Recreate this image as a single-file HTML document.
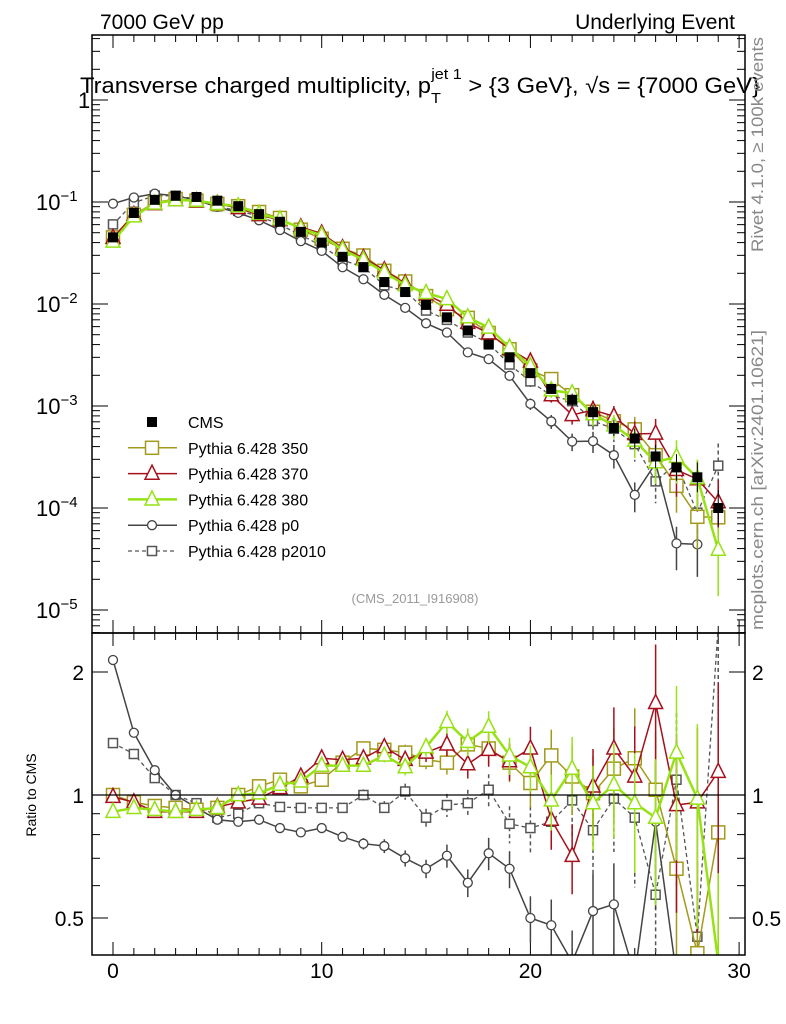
<!DOCTYPE html>
<html><head><meta charset="utf-8"><style>
html,body{margin:0;padding:0;background:#fff;overflow:hidden;width:786px;height:1024px}
svg{display:block;font-family:"Liberation Sans",sans-serif;overflow:hidden}
</style></head><body>
<svg id="plot" width="786" height="1024" viewBox="0 0 786 1024" xmlns="http://www.w3.org/2000/svg">
<g id="ticks"></g>
<g id="series"></g>
<rect x="92" y="35" width="653" height="598" fill="none" stroke="#000" stroke-width="1.5"/>
<rect x="92" y="633" width="653" height="322" fill="none" stroke="#000" stroke-width="1.5"/>
<line x1="92" x2="745" y1="795" y2="795" stroke="#000" stroke-width="1.3"/>
<text x="100" y="29" font-size="21">7000 GeV pp</text>
<text x="735" y="29" font-size="21" text-anchor="end">Underlying Event</text>
<text x="80" y="93" font-size="22" textLength="680" lengthAdjust="spacingAndGlyphs">Transverse charged multiplicity, p<tspan font-size="15" dy="10">T</tspan><tspan font-size="15" dx="-9" dy="-24">jet 1</tspan><tspan dy="14"> &gt; {3 GeV}, √s = {7000 GeV}</tspan></text>
<text transform="translate(763,252) rotate(-90)" font-size="17" fill="#888" textLength="215" lengthAdjust="spacingAndGlyphs">Rivet 4.1.0, ≥ 100k events</text>
<text transform="translate(763,630) rotate(-90)" font-size="17" fill="#888" textLength="300" lengthAdjust="spacingAndGlyphs">mcplots.cern.ch [arXiv:2401.10621]</text>
<text x="415" y="603" font-size="13" fill="#999" text-anchor="middle">(CMS_2011_I916908)</text>
<text transform="translate(36,795) rotate(-90)" font-size="14" text-anchor="middle">Ratio to CMS</text>
<g id="legend"></g>
</svg>
<script>
const xs = [0,1,2,3,4,5,6,7,8,9,10,11,12,13,14,15,16,17,18,19,20,21,22,23,24,25,26,27,28,29];
const cms = [0.045,0.078,0.105,0.115,0.112,0.103,0.091,0.076,0.064,0.051,0.040,0.029,0.023,0.0164,0.0131,0.0098,0.0074,0.0055,0.0040,0.0030,0.0021,0.00147,0.00115,0.00087,0.00061,0.00048,0.00032,0.00025,0.0002,0.0001];
const relErr = [0.01,0.01,0.01,0.01,0.01,0.01,0.01,0.01,0.012,0.015,0.018,0.02,0.025,0.03,0.035,0.04,0.05,0.06,0.07,0.08,0.1,0.12,0.15,0.18,0.2,0.25,0.3,0.35,0.4,0.5];
const r350 = [1.0,0.96,0.94,0.93,0.92,0.93,1.0,1.05,1.09,1.05,1.09,1.2,1.30,1.29,1.27,1.22,1.2,1.33,1.30,1.2,1.07,1.25,1.11,1.01,1.16,1.23,1.03,0.66,0.41,0.81];
const r370 = [0.99,0.96,0.91,0.91,0.91,0.935,0.96,0.98,1.04,1.11,1.23,1.22,1.23,1.31,1.22,1.27,1.33,1.19,1.29,1.21,1.30,0.87,0.71,1.05,1.30,1.11,1.68,0.945,0.96,1.14];
const r380 = [0.91,0.93,0.92,0.91,0.92,0.93,1.0,1.01,1.06,1.08,1.18,1.18,1.18,1.25,1.17,1.31,1.51,1.35,1.47,1.25,1.17,0.97,1.16,0.955,1.06,0.955,0.88,1.27,0.98,0.39];
const rp0 = [2.14,1.42,1.15,1.0,0.93,0.87,0.86,0.87,0.83,0.81,0.83,0.79,0.76,0.75,0.70,0.66,0.71,0.61,0.72,0.66,0.50,0.48,0.39,0.52,0.54,0.28,0.86,0.18,0.22];
const rp2010 = [1.34,1.26,1.10,1.0,0.955,0.88,0.90,0.955,0.935,0.93,0.93,0.93,1.0,0.93,1.02,0.88,0.945,0.955,1.03,0.85,0.83,0.86,0.97,0.82,0.98,0.88,0.57,1.09,0.45,2.6];
const xTicks = [0,10,20,30];

const NS="http://www.w3.org/2000/svg";
const X0=113, XS=20.87;
const fx = v => X0 + v*XS;
const fy = v => 100 - 102*Math.log10(v);
const fr = v => 795 - 408.6*Math.log10(v);
function el(tag, attrs, parent){const e=document.createElementNS(NS,tag);for(const k in attrs)e.setAttribute(k,attrs[k]);(parent||document.getElementById('series')).appendChild(e);return e;}

const defs=el('defs',{},document.getElementById('plot'));
const c1=el('clipPath',{id:'cm'},defs);el('rect',{x:92,y:35,width:653,height:598},c1);
const c2=el('clipPath',{id:'cr'},defs);el('rect',{x:92,y:633,width:653,height:322},c2);

const tg=document.getElementById('ticks');
for(let i=0;i<=30;i++){
  const L=(i%10===0)?13:7;
  [[955,-1],[633,-1],[633,1],[35,1]].forEach(([y,d])=>{
    const t=el('line',{x1:fx(i),x2:fx(i),y1:y,y2:y+d*L,stroke:'#000','stroke-width':1},tg);
    
    
  });
}
xTicks.forEach(v=>{const t=el('text',{x:fx(v),y:978,'font-size':21,'text-anchor':'middle'},tg);t.textContent=v;
  
  });
for(let e=-6;e<=0;e++){for(let m=1;m<10;m++){const v=m*Math.pow(10,e);const y=fy(v);if(y<35||y>633)continue;
  const L=m===1?16:8;
  [[92,1],[745,-1]].forEach(([x,d])=>{const t=el('line',{x1:x,x2:x+d*L,y1:y,y2:y,stroke:'#000'},tg);
    
    });
}}
const ylab=[[0,'1'],[-1,'10'],[-2,'10'],[-3,'10'],[-4,'10'],[-5,'10']];
ylab.forEach(([e,s])=>{const y=fy(Math.pow(10,e));const t=el('text',{x:e===0?78:36,y:y+8,'font-size':22},tg);
  
  
  t.textContent=s; if(e<0){const ts=el('tspan',{dy:-9,'font-size':15},t);ts.textContent='−'+(-e);}});
[0.3,0.4,0.5,0.6,0.7,0.8,0.9,1,2].forEach(v=>{const y=fr(v);if(y<633||y>955)return;const L=(v===0.5||v===1||v===2)?16:8;
  [[92,1],[745,-1]].forEach(([x,d])=>{const t=el('line',{x1:x,x2:x+d*L,y1:y,y2:y,stroke:'#000'},tg);
    
    });});
[[2,'2'],[1,'1'],[0.5,'0.5']].forEach(([v,s])=>{[[84,'end'],[752,'start']].forEach(([x,a])=>{
  const t=el('text',{x:x,y:fr(v)+8,'font-size':21,'text-anchor':a},tg);t.textContent=s;
  
  });});

function marker(g,type,x,y,col,sz){
  if(type==='sq') return el('rect',{x:x-sz/2,y:y-sz/2,width:sz,height:sz,fill:'#fff',stroke:col,'stroke-width':1.5},g);
  if(type==='fsq') return el('rect',{x:x-sz/2,y:y-sz/2,width:sz,height:sz,fill:col},g);
  if(type==='tri') return el('polygon',{points:`${x},${y-sz*0.6} ${x-sz/2},${y+sz*0.4} ${x+sz/2},${y+sz*0.4}`,fill:'#fff',stroke:col,'stroke-width':1.5},g);
  return el('circle',{cx:x,cy:y,r:sz/2,fill:'#fff',stroke:col,'stroke-width':1.3},g);
}
const series=[
  {name:'p2010',r:rp2010,col:'#555',type:'sq',sz:9,w:1.3,dash:'4,3'},
  {name:'p0',r:rp0,col:'#444',type:'ci',sz:9,w:1.5,dash:null},
  {name:'350',r:r350,col:'#a39a1c',type:'sq',sz:13,w:1.5,dash:null},
  {name:'370',r:r370,col:'#a5101c',type:'tri',sz:14,w:1.5,dash:null},
  {name:'380',r:r380,col:'#96e214',type:'tri',sz:14,w:2.5,dash:null}
];
const sg=document.getElementById('series');
series.forEach(s=>{
  [['main','cm',i=>fy(cms[i]*s.r[i]),35,633],['ratio','cr',i=>fr(s.r[i]),633,955]].forEach(([pn,cid,fyy,top,bot])=>{
    const g=el('g',{'clip-path':`url(#${cid})`},sg);
    
    
    const pts=s.r.map((v,i)=>fx(xs[i])+','+Math.max(top-20,Math.min(bot+20,fyy(i)))).join(' ');
    const pl=el('polyline',{points:pts,fill:'none',stroke:s.col,'stroke-width':s.w},g);
    if(s.dash)pl.setAttribute('stroke-dasharray',s.dash);
    s.r.forEach((v,i)=>{
      const e=relErr[i]*1.3, y=fyy(i), x=fx(xs[i]);
      if(y<top-20||y>bot+20)return;
      const sc=pn==='main'?102:408.6;
      const d=sc*Math.log10(1+e), dl=e<0.95?sc*-Math.log10(1-e):400;
      const b=el('line',{x1:x,x2:x,y1:Math.max(top,y-d),y2:Math.min(y+dl,bot),stroke:s.col,'stroke-width':1.5},g);
      if(s.dash)b.setAttribute('stroke-dasharray','4,3');
      const m=marker(g,s.type,x,y,s.col,s.sz);
      
      
    });
  });
});
const cg=el('g',{'clip-path':'url(#cm)'},sg);


cms.forEach((v,i)=>{const y=fy(v),x=fx(xs[i]);const d=102*Math.log10(1+relErr[i]);
  el('line',{x1:x,x2:x,y1:y-d,y2:y+d,stroke:'#000'},cg);
  const m=marker(cg,'fsq',x,y,'#000',10);
  
  });
const lg=document.getElementById('legend');
const leg=[{col:'#000',type:'fsq',sz:10,label:'CMS',line:false},
  {col:'#a39a1c',type:'sq',sz:13,label:'Pythia 6.428 350',w:1.5},
  {col:'#a5101c',type:'tri',sz:14,label:'Pythia 6.428 370',w:1.5},
  {col:'#96e214',type:'tri',sz:14,label:'Pythia 6.428 380',w:2.5},
  {col:'#444',type:'ci',sz:9,label:'Pythia 6.428 p0',w:1.5},
  {col:'#555',type:'sq',sz:9,label:'Pythia 6.428 p2010',w:1.3,dash:'4,3'}];
leg.forEach((l,k)=>{const y=422+k*25.8;
  const g=el('g',{},lg);
  
  
  if(l.line!==false){const ln=el('line',{x1:128,x2:177,y1:y,y2:y,stroke:l.col,'stroke-width':l.w},g);if(l.dash)ln.setAttribute('stroke-dasharray',l.dash);}
  marker(g,l.type,152,y,l.col,l.sz);
  const t=el('text',{x:188,y:y+6,'font-size':16},g);t.textContent=l.label;});
</script>
</body></html>
